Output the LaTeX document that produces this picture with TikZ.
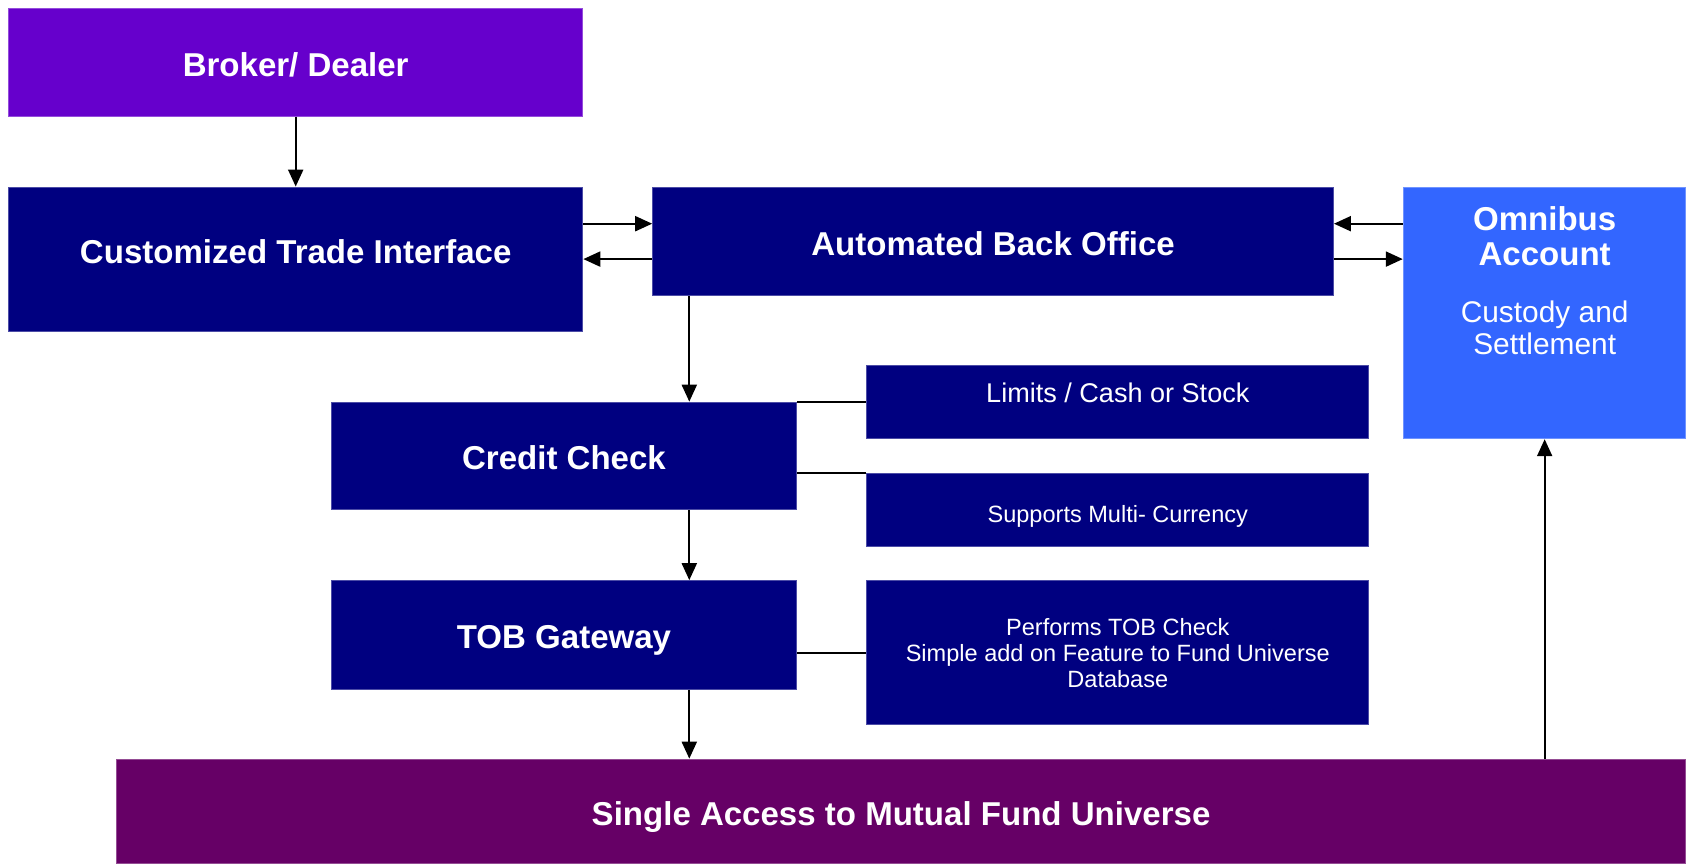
\documentclass[tikz,border=0pt]{standalone}
\usepackage{fontspec}
\setmainfont{Liberation Sans}
\usetikzlibrary{arrows.meta}
\definecolor{brokerpurple}{HTML}{6600CC}
\definecolor{navyblue}{HTML}{000080}
\definecolor{omniblue}{HTML}{3366FF}
\definecolor{fundplum}{HTML}{660066}

\begin{document}
\begin{tikzpicture}[
    box/.style = {fill = navyblue, draw = navyblue!70!white, line width = 0.3pt, text = white, inner sep = 0pt, align = center},
    big/.style = {font = \fontsize{9.4}{10.1}\selectfont\bfseries},
    small/.style = {font = \fontsize{6.7}{7.4}\selectfont},
    oneline/.style = {text height = 0.28cm, text depth = 0cm},
    arr/.style = {-{Triangle[length = 0.17cm, width = 0.15cm]}, line width = 0.6pt},
    link/.style = {-, line width = 0.6pt}
  ]
        \useasboundingbox (0, 0) rectangle (16.86, -8.64);

        \node [box, big, oneline, fill = brokerpurple, draw = brokerpurple!70!white, minimum width = 5.742cm, minimum height = 1.075cm] (broker) at (2.957, -0.6235) {Broker/ Dealer};
        \node [box, big, minimum width = 5.742cm, minimum height = 1.441cm, text height = 0.24cm, text depth = 0.15cm] (cti) at (2.957, -2.5915) {Customized Trade Interface};
        \node [box, big, oneline, minimum width = 6.807cm, minimum height = 1.086cm] (abo) at (9.9305, -2.414) {Automated Back Office};

        \node [box, fill = omniblue, draw = omniblue!70!white, minimum width = 2.827cm, minimum height = 2.516cm] (omni) at (15.4465, -3.129) {};
        \node [big, text = white, align = center, inner sep = 0pt] (omnititle) at (15.4465, -2.36) {Omnibus\\Account};
        \node [text = white, align = center, inner sep = 0pt, font = \fontsize{8.5}{9.2}\selectfont] (omnisub) at (15.4465, -3.28) {Custody and\\Settlement};

        \node [box, big, oneline, minimum width = 4.656cm, minimum height = 1.075cm] (credit) at (5.64, -4.5595) {Credit Check};
        \node [box, font = \fontsize{7.7}{8.5}\selectfont, minimum width = 5.022cm, minimum height = 0.731cm, text height = 0.2cm, text depth = 0.2cm] (limits) at (11.178, -4.0215) {Limits / Cash or Stock};
        \node [box, small, minimum width = 5.022cm, minimum height = 0.732cm, text height = 0.26cm, text depth = 0cm] (multi) at (11.178, -5.097) {Supports Multi- Currency};
        \node [box, big, oneline, minimum width = 4.656cm, minimum height = 1.086cm] (tob) at (5.64, -6.35) {TOB Gateway};
        \node [box, small, minimum width = 5.022cm, minimum height = 1.441cm] (tobcheck) at (11.178, -6.5275) {Performs TOB Check\\Simple add on Feature to Fund Universe\\Database};
        \node [box, big, oneline, fill = fundplum, draw = fundplum!70!white, minimum width = 15.699cm, minimum height = 1.048cm] (fund) at (9.0105, -8.116) {Single Access to Mutual Fund Universe};

        \coordinate (spine) at (6.893, 0);
        \coordinate (rowa) at (0, -2.237);
        \coordinate (rowb) at (0, -2.591);

        \draw [arr] (broker) -- (cti);

        \draw [arr] (cti.east |- rowa) -- (abo.west |- rowa);
        \draw [arr] (abo.west |- rowb) -- (cti.east |- rowb);
        \draw [arr] (omni.west |- rowa) -- (abo.east |- rowa);
        \draw [arr] (abo.east |- rowb) -- (omni.west |- rowb);

        \foreach \a/\b in {abo/credit, credit/tob, tob/fund} {
          \draw [arr] (\a.south -| spine) -- (\b.north -| spine);
        }

        \draw [link] (credit.north east) -- (limits.west |- credit.north east);
        \draw [link] (credit.east |- multi.north west) -- (multi.north west);
        \draw [link] (tob.east |- tobcheck.west) -- (tobcheck.west);

        \draw [arr] (fund.north -| omni.south) -- (omni.south);
      \end{tikzpicture}
\end{document}
